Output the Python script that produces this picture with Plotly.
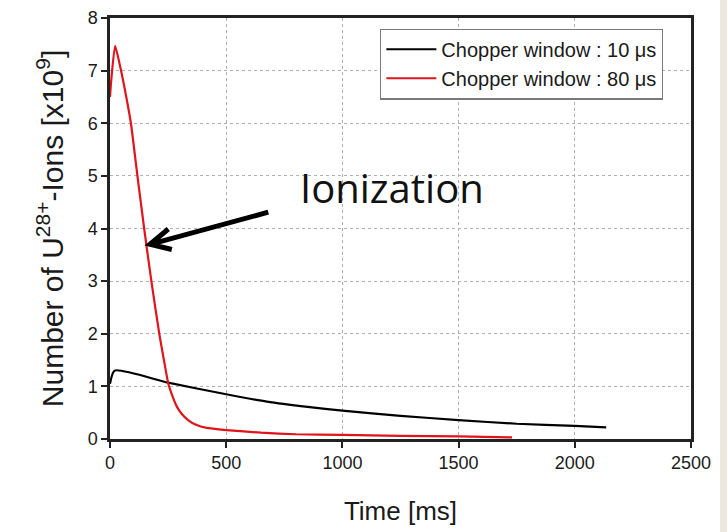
import plotly.graph_objects as go

# Chopper window 10 us
t_10us = [0, 20, 250, 500, 675, 850, 1000, 1250, 1500, 1750, 2000, 2135]
n_10us = [1.05, 1.3, 1.07, 0.85, 0.71, 0.61, 0.54, 0.44, 0.36, 0.29, 0.25, 0.22]

# Chopper window 80 us
t_80us = [0, 5, 22, 46, 70, 90, 118, 147, 178, 212, 232, 251, 270, 287, 310,
          336, 370, 416, 500, 650, 800, 1000, 1250, 1500, 1730]
n_80us = [6.5, 6.8, 7.47, 7.03, 6.5, 6.0, 5.0, 4.0, 3.0, 2.0, 1.5, 1.05, 0.8,
          0.62, 0.47, 0.36, 0.27, 0.21, 0.17, 0.12, 0.09, 0.08, 0.06, 0.05, 0.03]

x_ticks = [0, 500, 1000, 1500, 2000, 2500]
y_ticks = [0, 1, 2, 3, 4, 5, 6, 7, 8]

label_font = dict(family="Liberation Sans, Arial, sans-serif", color="#1a1a1a")

fig = go.Figure()
fig.add_trace(go.Scatter(x=t_10us, y=n_10us, mode="lines",
                         line=dict(color="#000000", width=2.2, shape="spline", smoothing=0.6),
                         name="Chopper window : 10 \u03bcs"))
fig.add_trace(go.Scatter(x=t_80us, y=n_80us, mode="lines",
                         line=dict(color="#e0141b", width=2.2, shape="spline", smoothing=0.5),
                         name="Chopper window : 80 \u03bcs"))

axis_common = dict(showline=True, linecolor="#222222", linewidth=2.5, mirror=True,
                   showgrid=True, gridcolor="#b0b0b0", griddash="dot", gridwidth=1,
                   ticks="outside", ticklen=6, tickcolor="#222222", tickwidth=1.5,
                   zeroline=False, automargin=False, tickfont=dict(size=18, **label_font))

fig.update_xaxes(range=[0, 2500], tickvals=x_ticks, ticktext=[str(v) for v in x_ticks],
                 title=dict(text="Time [ms]", font=dict(size=26, **label_font), standoff=30),
                 **axis_common)
y_title = "Number of U<sup>28+</sup>-Ions [x10<sup>9</sup>]"
fig.update_yaxes(range=[0, 8], tickvals=y_ticks, ticktext=[str(v) for v in y_ticks],
                 title=dict(text=y_title, font=dict(size=30, **label_font), standoff=16),
                 **axis_common)

# arrow pointing at the steep decay of the 80 us curve (open chevron head)
tip = (172, 3.70)
tail = (681, 4.31)
arm_a = (251, 3.99)
arm_b = (266, 3.60)
fig.add_shape(type="path", xref="x", yref="y",
              path=(f"M {tail[0]} {tail[1]} L {tip[0]} {tip[1]} "
                    f"M {arm_a[0]} {arm_a[1]} L {tip[0]} {tip[1]} L {arm_b[0]} {arm_b[1]}"),
              line=dict(color="#000000", width=5))
fig.add_annotation(x=1213, y=4.78, xref="x", yref="y", text="Ionization", showarrow=False,
                   font=dict(family="Open Sans, sans-serif", size=40, color="#111111"))

# thin beige strip at the right edge of the page
fig.add_shape(type="rect", xref="paper", yref="paper", x0=1.05, x1=1.08, y0=-0.3, y1=1.1,
              fillcolor="#ebe7dd", line=dict(width=0), layer="below")

fig.update_layout(
    width=727, height=532,
    margin=dict(l=110, r=36, t=18, b=93),
    plot_bgcolor="white", paper_bgcolor="white",
    legend=dict(x=0.465, y=0.975, xanchor="left", yanchor="top",
                bgcolor="white", bordercolor="#7a7a7a", borderwidth=1.2,
                font=dict(size=20, **label_font), itemwidth=50,
                tracegroupgap=0),
    showlegend=True,
)

fig.write_html("out.html")
